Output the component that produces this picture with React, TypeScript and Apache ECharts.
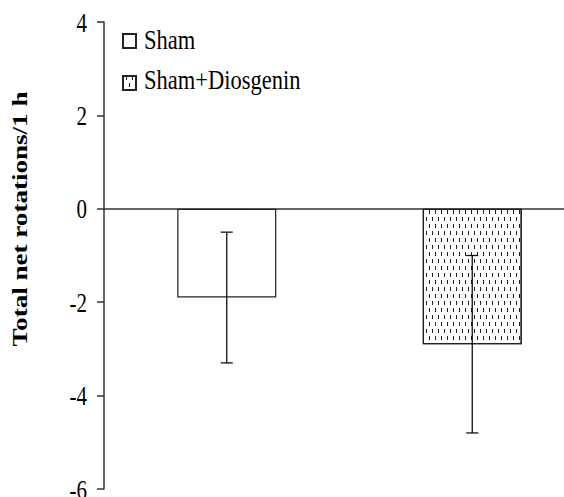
import React, { useEffect, useRef } from "react";
import * as echarts from "echarts";

const categories = ["Sham", "Sham+Diosgenin"];
const means = [-1.9, -2.9];
const errors = [1.4, 1.9];
const yTicks = [-6, -4, -2, 0, 2, 4];
const yAxisTitle = "Total net rotations/1 h";

const SERIF = "Liberation Serif";

export default function App() {
  const ref = useRef<HTMLDivElement>(null);
  useEffect(() => {
    if (!ref.current) return;
    const chart = echarts.init(ref.current, null, { renderer: "svg" });
    const errData = categories.map((_, i) => [i, means[i] - errors[i], means[i] + errors[i]]);
    const pattern = {
      symbol: "rect",
      symbolSize: 1,
      color: "#222",
      backgroundColor: "#fff",
      dashArrayX: [[1, 4.5], [0, 2.75, 1, 1.75]],
      dashArrayY: [4, 3],
      rotation: 0,
    };
    const gridLeft = 104;
    chart.setOption({
      animation: false,
      backgroundColor: "#fff",
      grid: { left: gridLeft, width: 491, top: 22, bottom: 8, containLabel: false, outerBoundsMode: "none" },
      legend: {
        orient: "vertical",
        left: 122,
        top: 33,
        padding: 0,
        itemWidth: 13,
        itemHeight: 14,
        itemGap: 26,
        icon: "rect",
        formatter: () => "",
        textStyle: { fontSize: 12, lineHeight: 14 },
        data: categories,
      },
      xAxis: {
        type: "category",
        data: categories,
        axisLine: { onZero: true, lineStyle: { color: "#333", width: 1.5 } },
        axisTick: { show: false },
        axisLabel: { show: false },
      },
      yAxis: {
        type: "value",
        min: yTicks[0],
        max: yTicks[yTicks.length - 1],
        interval: yTicks[1] - yTicks[0],
        splitLine: { show: false },
        axisLine: { show: true, lineStyle: { color: "#333", width: 1.5 } },
        axisTick: { show: true, inside: false, length: 7, lineStyle: { color: "#333", width: 1.5 } },
        axisLabel: { show: false },
      },
      series: [
        {
          name: categories[0],
          type: "bar",
          barWidth: 99,
          barGap: "-100%",
          data: [means[0], null],
          itemStyle: { color: "#fff", borderColor: "#222", borderWidth: 1.2 },
        },
        {
          name: categories[1],
          type: "bar",
          barWidth: 99,
          barGap: "-100%",
          data: [null, means[1]],
          itemStyle: { color: "#fff", borderColor: "#222", borderWidth: 1.2, decal: pattern },
        },
        {
          type: "custom",
          name: "error",
          data: errData,
          z: 10,
          renderItem: (params: any, api: any) => {
            const x = api.value(0);
            const lo = api.coord([x, api.value(1)]);
            const hi = api.coord([x, api.value(2)]);
            const cap = 6;
            const st = { stroke: "#111", lineWidth: 1.3 };
            return {
              type: "group",
              children: [
                { type: "line", shape: { x1: lo[0], y1: lo[1], x2: hi[0], y2: hi[1] }, style: st },
                { type: "line", shape: { x1: lo[0] - cap, y1: lo[1], x2: lo[0] + cap, y2: lo[1] }, style: st },
                { type: "line", shape: { x1: hi[0] - cap, y1: hi[1], x2: hi[0] + cap, y2: hi[1] }, style: st },
              ],
            };
          },
        },
      ],
    });

    const tickTexts = yTicks.map((v) => {
      const py = chart.convertToPixel({ yAxisIndex: 0 }, v) as number;
      return {
        type: "text",
        x: gridLeft - 17,
        y: py,
        scaleY: 1.35,
        style: {
          text: String(v),
          font: `21px ${SERIF}`,
          fill: "#000",
          align: "right",
          verticalAlign: "middle",
        },
      };
    });
    const legendTexts = categories.map((c, i) => ({
      type: "text",
      x: 144,
      y: 40 + i * 40,
      scaleY: 1.2,
      style: {
        text: c,
        font: `22.5px ${SERIF}`,
        fill: "#000",
        align: "left",
        verticalAlign: "middle",
      },
    }));
    chart.setOption({
      graphic: [
        ...tickTexts,
        ...legendTexts,
        {
          type: "text",
          x: 20,
          y: 219,
          rotation: Math.PI / 2,
          scaleX: 1.29,
          style: {
            text: yAxisTitle,
            font: `bold 21px ${SERIF}`,
            fill: "#000",
            align: "center",
            verticalAlign: "middle",
          },
        },
      ],
    });
    return () => chart.dispose();
  }, []);
  return <div ref={ref} style={{ width: 564, height: 497, position: "absolute", left: 0, top: 0 }} />;
}
